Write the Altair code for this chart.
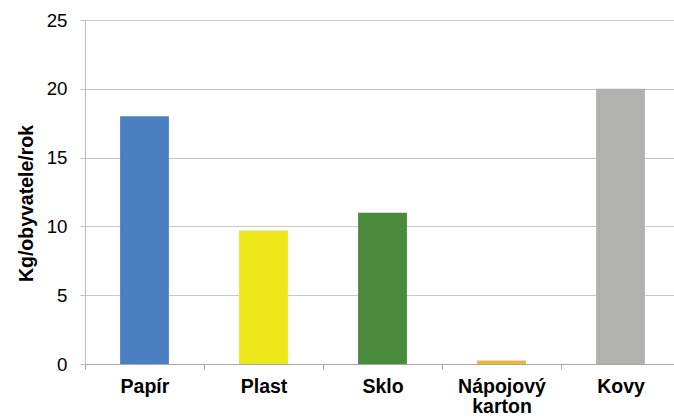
import altair as alt
import pandas as pd

# Sorted waste per inhabitant per year, by material
categories = ["Papír", "Plast", "Sklo", "Nápojový karton", "Kovy"]
values = [18.0, 9.7, 11.0, 0.25, 20.0]
colors = ["#4a7fc1", "#eee71a", "#4a8b3b", "#f2b81e", "#b1b2b0"]

df = pd.DataFrame({"material": categories, "kg": values})

FONT = "Liberation Sans"

chart = (
    alt.Chart(df)
    .mark_bar(width={"band": 0.41})
    .encode(
        x=alt.X(
            "material:N",
            sort=categories,
            scale=alt.Scale(range=[0, 595], paddingInner=0, paddingOuter=0),
            axis=alt.Axis(
                title=None,
                labelAngle=0,
                labelFont=FONT,
                labelFontWeight="bold",
                labelFontSize=19.5,
                labelColor="#000000",
                labelPadding=8,
                labelLineHeight=20.5,
                labelExpr="split(datum.label, ' ')",
                tickBand="extent",
                tickSize=5,
                tickColor="#a6a6a6",
                domainColor="#a6a6a6",
                grid=False,
            ),
        ),
        y=alt.Y(
            "kg:Q",
            scale=alt.Scale(domain=[0, 25], nice=False),
            axis=alt.Axis(
                title="Kg/obyvatele/rok",
                values=[0, 5, 10, 15, 20, 25],
                titleFont=FONT,
                titleFontWeight="bold",
                titleFontSize=19.5,
                titleColor="#000000",
                titleX=-53,
                titleY=183,
                titleBaseline="alphabetic",
                titleAngle=270,
                labelFont=FONT,
                labelFontSize=18.7,
                labelColor="#000000",
                labelPadding=13,
                tickSize=5,
                tickColor="#bfbfbf",
                domainColor="#bfbfbf",
                grid=True,
                gridColor="#c8c8c8",
                gridWidth=1,
            ),
        ),
        color=alt.Color(
            "material:N",
            scale=alt.Scale(domain=categories, range=colors),
            legend=None,
        ),
    )
    .properties(
        width=589,
        height=344,
        padding={"left": 85, "top": 20, "right": 0, "bottom": 54},
        autosize=alt.AutoSizeParams(type="none"),
    )
    .configure_view(stroke=None)
    .configure(background="#ffffff")
)

chart.save("out.html", embed_options={"renderer": "svg", "actions": False})
